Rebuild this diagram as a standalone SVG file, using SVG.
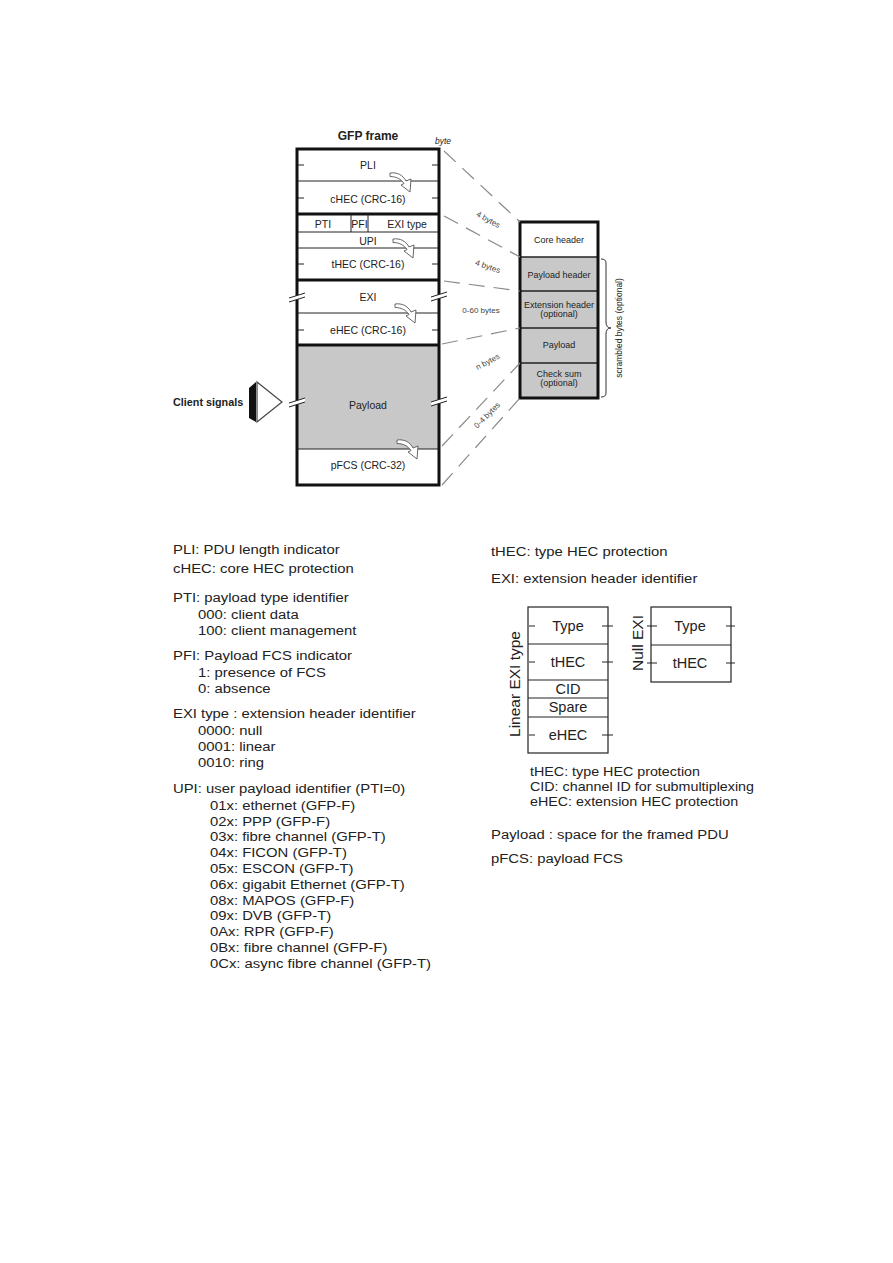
<svg xmlns="http://www.w3.org/2000/svg" xmlns:xlink="http://www.w3.org/1999/xlink" width="893" height="1263" viewBox="0 0 893 1263">
<style>
text{font-family:"Liberation Sans",Arial,sans-serif;fill:#222}
.f{font-size:10.5px;text-anchor:middle}
.r{font-size:9px;text-anchor:middle}
.lb{font-size:8px;fill:#444;text-anchor:middle}
.lg{font-size:13.5px}
.sm{font-size:13px}
.tb{font-size:14.5px;text-anchor:middle}
.thick{stroke:#111;stroke-width:3;fill:none}
.thin{stroke:#222;stroke-width:1;fill:none}
.mid{stroke:#222;stroke-width:1.5;fill:none}
.tick{stroke:#222;stroke-width:1}
.dash{stroke:#8a8a8a;stroke-width:1.2;stroke-dasharray:16 9;fill:none}
.gray{fill:#c8c8c8}
.arr{fill:#fff;stroke:#555;stroke-width:0.9}
.brk{fill:#fff;stroke:none}
.brkl{stroke:#222;stroke-width:1}
</style>
<defs>
<path id="carrow" class="arr" d="M0,0 C7,-1 13,2 16,8 L21,6 L20,19 L11,12 L14,10.5 C11,6 6,3.5 0,3.5 Z"/>
<g id="brkmark">
<polygon class="brk" points="-8,3 8,-2 8,2 -8,7"/>
<line class="brkl" x1="-8" y1="3" x2="8" y2="-2"/>
<line class="brkl" x1="-8" y1="7" x2="8" y2="2"/>
</g>
</defs>
<rect width="893" height="1263" fill="#fff"/>

<!-- GFP frame -->
<g id="gfp-frame">
<text x="368" y="140" style="font-size:12px;font-weight:bold;text-anchor:middle">GFP frame</text>
<text x="435" y="144" style="font-size:8.5px;font-style:italic">byte</text>
<rect class="gray" x="297" y="345" width="142" height="104"/>
<g id="row-pli"><text class="f" x="368" y="169">PLI</text>
<line class="tick" x1="298" y1="165" x2="304" y2="165"/><line class="tick" x1="432" y1="165" x2="438" y2="165"/></g>
<line class="thin" x1="297" y1="181" x2="439" y2="181"/>
<g id="row-chec"><text class="f" x="368" y="203">cHEC (CRC-16)</text>
<line class="tick" x1="298" y1="198" x2="304" y2="198"/><line class="tick" x1="432" y1="198" x2="438" y2="198"/></g>
<line class="thick" x1="297" y1="214" x2="439" y2="214"/>
<g id="row-pti"><text class="f" x="323" y="228">PTI</text><text class="f" x="359.5" y="228">PFI</text><text class="f" x="407" y="228">EXI type</text>
<line class="thin" x1="351" y1="214" x2="351" y2="232"/><line class="thin" x1="368" y1="214" x2="368" y2="232"/></g>
<line class="thin" x1="297" y1="232" x2="439" y2="232"/>
<g id="row-upi"><text class="f" x="368" y="245">UPI</text></g>
<line class="thin" x1="297" y1="248" x2="439" y2="248"/>
<g id="row-thec"><text class="f" x="368" y="268">tHEC (CRC-16)</text>
<line class="tick" x1="298" y1="264" x2="304" y2="264"/><line class="tick" x1="432" y1="264" x2="438" y2="264"/></g>
<line class="thick" x1="297" y1="280" x2="439" y2="280"/>
<g id="row-exi"><text class="f" x="368" y="301">EXI</text></g>
<line class="thin" x1="297" y1="313" x2="439" y2="313"/>
<g id="row-ehec"><text class="f" x="368" y="334">eHEC (CRC-16)</text>
<line class="tick" x1="298" y1="330" x2="304" y2="330"/><line class="tick" x1="432" y1="330" x2="438" y2="330"/></g>
<line class="thick" x1="297" y1="345" x2="439" y2="345"/>
<g id="row-payload"><text class="f" x="368" y="409">Payload</text></g>
<line class="thin" x1="297" y1="449" x2="439" y2="449"/>
<g id="row-pfcs"><text class="f" x="368" y="469">pFCS (CRC-32)</text></g>
<rect class="thick" x="297" y="149" width="142" height="336"/>
<use xlink:href="#brkmark" transform="translate(297,295)"/>
<use xlink:href="#brkmark" transform="translate(439,294)"/>
<use xlink:href="#brkmark" transform="translate(297,400)"/>
<use xlink:href="#brkmark" transform="translate(439,399)"/>
</g>

<!-- Client signals -->
<g id="client-signals">
<text x="173" y="406" style="font-size:10.8px;font-weight:bold">Client signals</text>
<polygon points="249,388 256,382 256,422 249,418" fill="#111"/>
<polygon points="257,382 282,402 257,422" fill="#fff" stroke="#444" stroke-width="1.2"/>
</g>

<!-- Right structure box -->
<g id="struct-box">
<rect class="gray" x="520" y="257" width="78" height="141"/>
<g id="core-header"><text class="r" x="559" y="243">Core header</text></g>
<line class="mid" x1="520" y1="257" x2="598" y2="257"/>
<g id="payload-header"><text class="r" x="559" y="278">Payload header</text></g>
<line class="mid" x1="520" y1="291" x2="598" y2="291"/>
<g id="extension-header"><text class="r" x="559" y="308">Extension header</text><text class="r" x="559" y="317">(optional)</text></g>
<line class="mid" x1="520" y1="328" x2="598" y2="328"/>
<g id="payload-box"><text class="r" x="559" y="348">Payload</text></g>
<line class="mid" x1="520" y1="363" x2="598" y2="363"/>
<g id="check-sum"><text class="r" x="559" y="377">Check sum</text><text class="r" x="559" y="386">(optional)</text></g>
<rect class="thick" x="520" y="222" width="78" height="176"/>
</g>
<g id="scrambled">
<path d="M601,259 q5,0 5,4 L606,322 q0,6 5,6 q-5,0 -5,6 L606,393 q0,4 -5,4" fill="none" stroke="#333" stroke-width="1"/>
<text transform="translate(622,328) rotate(-90)" style="font-size:8.5px;text-anchor:middle">scrambled bytes (optional)</text>
</g>

<!-- Connectors -->
<g id="connectors">
<line class="dash" x1="444" y1="151" x2="520" y2="222"/>
<line class="dash" x1="444" y1="216" x2="520" y2="257"/>
<line class="dash" x1="444" y1="281" x2="520" y2="291"/>
<line class="dash" x1="442" y1="344" x2="520" y2="328"/>
<line class="dash" x1="442" y1="446" x2="520" y2="363"/>
<line class="dash" x1="442" y1="485" x2="520" y2="398"/>
<use xlink:href="#carrow" transform="translate(390,173)"/>
<use xlink:href="#carrow" transform="translate(393,239)"/>
<use xlink:href="#carrow" transform="translate(395,304)"/>
<use xlink:href="#carrow" transform="translate(397,440)"/>
<text class="lb" transform="translate(487,222) rotate(29)">4 bytes</text>
<text class="lb" transform="translate(487,269) rotate(19)">4 bytes</text>
<text class="lb" x="481" y="313">0-60 bytes</text>
<text class="lb" transform="translate(489,364) rotate(-28)">n bytes</text>
<text class="lb" transform="translate(489,417) rotate(-45)">0-4 bytes</text>
</g>

<!-- Legend left -->
<g id="legend-left" transform="translate(173,0) scale(1.1,1)">
<text class="lg" x="0" y="554">PLI: PDU length indicator</text>
<text class="lg" x="0" y="573">cHEC: core HEC protection</text>
<text class="lg" x="0" y="602">PTI: payload type identifier</text>
<text class="lg" x="22.7" y="619">000: client data</text>
<text class="lg" x="22.7" y="635">100: client management</text>
<text class="lg" x="0" y="660">PFI: Payload FCS indicator</text>
<text class="lg" x="22.7" y="677">1: presence of FCS</text>
<text class="lg" x="22.7" y="693">0: absence</text>
<text class="lg" x="0" y="718">EXI type : extension header identifier</text>
<text class="lg" x="22.7" y="735">0000: null</text>
<text class="lg" x="22.7" y="751">0001: linear</text>
<text class="lg" x="22.7" y="767">0010: ring</text>
<text class="lg" x="0" y="793">UPI: user payload identifier (PTI=0)</text>
<text class="lg" x="33.6" y="810">01x: ethernet (GFP-F)</text>
<text class="lg" x="33.6" y="826">02x: PPP (GFP-F)</text>
<text class="lg" x="33.6" y="841">03x: fibre channel (GFP-T)</text>
<text class="lg" x="33.6" y="857">04x: FICON (GFP-T)</text>
<text class="lg" x="33.6" y="873">05x: ESCON (GFP-T)</text>
<text class="lg" x="33.6" y="889">06x: gigabit Ethernet (GFP-T)</text>
<text class="lg" x="33.6" y="905">08x: MAPOS (GFP-F)</text>
<text class="lg" x="33.6" y="920">09x: DVB (GFP-T)</text>
<text class="lg" x="33.6" y="936">0Ax: RPR (GFP-F)</text>
<text class="lg" x="33.6" y="952">0Bx: fibre channel (GFP-F)</text>
<text class="lg" x="33.6" y="968">0Cx: async fibre channel (GFP-T)</text>
</g>

<!-- Legend right -->
<g id="legend-right" transform="translate(491,0) scale(1.1,1)">
<text class="lg" x="0" y="556">tHEC: type HEC protection</text>
<text class="lg" x="0" y="583">EXI: extension header identifier</text>
<text class="lg" x="0" y="839">Payload : space for the framed PDU</text>
<text class="lg" x="0" y="863">pFCS: payload FCS</text>
</g>

<!-- Linear EXI table -->
<g id="linear-exi">
<text transform="translate(520,684) rotate(-90)" style="font-size:15.5px;text-anchor:middle">Linear EXI type</text>
<rect x="528" y="607" width="80" height="146" fill="none" stroke="#222" stroke-width="1.2"/>
<line class="thin" x1="528" y1="644" x2="608" y2="644"/>
<line class="thin" x1="528" y1="680" x2="608" y2="680"/>
<line class="thin" x1="528" y1="698" x2="608" y2="698"/>
<line class="thin" x1="528" y1="717" x2="608" y2="717"/>
<text class="tb" x="568" y="631">Type</text>
<text class="tb" x="568" y="667">tHEC</text>
<text class="tb" x="568" y="694">CID</text>
<text class="tb" x="568" y="712">Spare</text>
<text class="tb" x="568" y="740">eHEC</text>
<line class="tick" x1="529" y1="626" x2="535" y2="626"/><line class="tick" x1="602" y1="626" x2="613" y2="626"/>
<line class="tick" x1="529" y1="662" x2="535" y2="662"/><line class="tick" x1="602" y1="662" x2="613" y2="662"/>
<line class="tick" x1="529" y1="735" x2="535" y2="735"/><line class="tick" x1="602" y1="735" x2="613" y2="735"/>
</g>

<!-- Null EXI table -->
<g id="null-exi">
<text transform="translate(643,643) rotate(-90)" style="font-size:15.5px;text-anchor:middle">Null EXI</text>
<rect x="651" y="607" width="80" height="75" fill="none" stroke="#222" stroke-width="1.2"/>
<line class="thin" x1="651" y1="645" x2="731" y2="645"/>
<text class="tb" x="690" y="631">Type</text>
<text class="tb" x="690" y="668">tHEC</text>
<line class="tick" x1="647" y1="626" x2="657" y2="626"/><line class="tick" x1="726" y1="626" x2="735" y2="626"/>
<line class="tick" x1="647" y1="663" x2="657" y2="663"/><line class="tick" x1="726" y1="663" x2="735" y2="663"/>
</g>

<g id="table-legend" transform="translate(530,0) scale(1.1,1)">
<text class="sm" x="0" y="776">tHEC: type HEC protection</text>
<text class="sm" x="0" y="791">CID: channel ID for submultiplexing</text>
<text class="sm" x="0" y="806">eHEC: extension HEC protection</text>
</g>
</svg>
